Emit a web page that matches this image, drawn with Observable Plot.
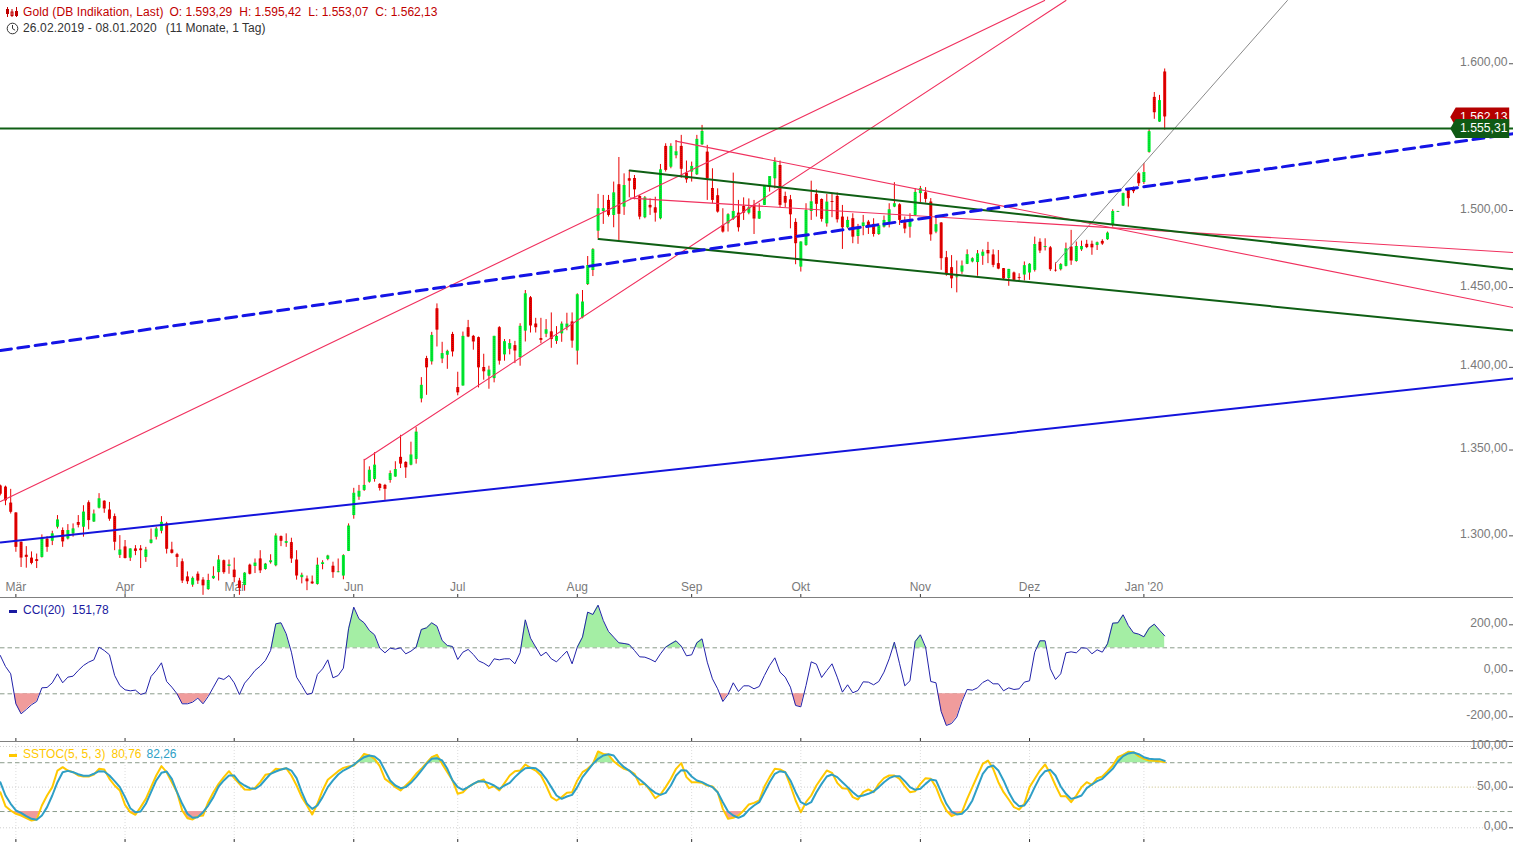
<!DOCTYPE html>
<html lang="de">
<head>
<meta charset="utf-8">
<title>Gold (DB Indikation, Last)</title>
<script src="https://cdn.jsdelivr.net/npm/d3@7"></script>
<script src="https://cdn.jsdelivr.net/npm/@observablehq/plot@0.6"></script>
<style>
  html, body { margin: 0; padding: 0; background: #fff; overflow: hidden; }
  #page { position: relative; width: 1513px; height: 842px; font: 12px "Liberation Sans", Arial, sans-serif; }
  #page svg.plot { position: absolute; left: 0; display: block; }
  .label { position: absolute; white-space: pre; line-height: 14px; z-index: 2; }
  .label span { margin-left: 7px; }
  .label span:first-child { margin-left: 0; }
  .icon { position: absolute; z-index: 2; }
  .dash { position: absolute; left: 9px; width: 8px; height: 3px; z-index: 2; }
</style>
</head>
<body>
<div id="page">
  <svg class="icon" style="left:6px;top:6px" width="12" height="12" viewBox="0 0 12 12" fill="none" stroke="#c00000">
    <path d="M1.5 1v10M6 3v8M10.5 1v10"/><rect x="0.5" y="3.5" width="2" height="4"/><rect x="5" y="6" width="2" height="3.5"/><rect x="9.5" y="5.5" width="2" height="4"/>
  </svg>
  <div class="label" style="left:23px;top:5px;color:#c00000"><span style="letter-spacing:.12px">Gold (DB Indikation, Last)</span><span style="margin-left:6px">O: 1.593,29</span><span>H: 1.595,42</span><span>L: 1.553,07</span><span>C: 1.562,13</span></div>
  <svg class="icon" style="left:6px;top:22px" width="13" height="13" viewBox="0 0 13 13" fill="none" stroke="#333">
    <circle cx="6.5" cy="6.5" r="5.3"/><path d="M6.5 3v3.6l2.6 1.6"/>
  </svg>
  <div class="label" style="left:23px;top:21px;color:#333"><span style="letter-spacing:.13px">26.02.2019 - 08.01.2020</span><span style="margin-left:9px">(11 Monate, 1 Tag)</span></div>
  <div class="dash" style="top:610px;background:#1a1aa0"></div>
  <div class="label" style="left:23px;top:603px;color:#1a1aa0"><span>CCI(20)</span><span>151,78</span></div>
  <div class="dash" style="top:754px;background:#ffc800"></div>
  <div class="label" style="left:23px;top:747px;color:#ffc800"><span>SSTOC(5, 5, 3)</span><span style="margin-left:6px">80,76</span><span style="margin-left:5px;color:#2f9fc6">82,26</span></div>
</div>
<script>
// ---- price candles, one entry per trading day ----
const opens = [
1328,1327.4,1318.1,1312.4,1295.6,1288.2,1286.6,1285.7,1287,1297.3,
1296.2,1304.2,1302.3,1297.5,1300.4,1306.9,1304.2,1318.3,1307.2,1315.2,
1319.2,1314.1,1310.3,1288.2,1292.9,1286.6,1291.8,1291.8,1287,1295,
1298.5,1301.9,1306.1,1291.2,1288.5,1284.5,1276,1271.4,1277.5,1274.2,
1268.9,1275,1278.4,1285.1,1281.9,1279.8,1273.7,1271.2,1282.6,1281.9,
1286.1,1280.2,1284,1282.3,1298.8,1295,1295.4,1285.5,1275.6,1274.8,
1273.1,1271.8,1283,1285.9,1282,1278.4,1276.5,1290.4,1310.9,1321.6,
1325.5,1330.3,1331.9,1329,1328.4,1331.3,1333.3,1344.9,1341.9,1340.3,
1343.7,1379.9,1404.6,1402.6,1435.7,1404.4,1406.7,1419.6,1386.8,1387.8,
1423.8,1418.4,1417.6,1399.1,1393.8,1392.3,1423.8,1406.9,1410.4,1412.6,
1405.2,1421.7,1442.7,1426.1,1417,1419.8,1421.2,1415.3,1420,1423.8,
1427.4,1409.3,1430,1451.1,1460.1,1485.6,1498.5,1505.8,1495.9,1516.2,
1501.4,1520.2,1520.4,1508.4,1494.4,1502.5,1500.9,1493.7,1542,1528,
1535.7,1542,1524,1524.7,1522.9,1543.1,1538.1,1513.7,1508.9,1489.1,
1490.4,1493.3,1497.4,1501.8,1497.4,1502.5,1493.5,1502.5,1515,1520.2,
1529.1,1508.4,1506.2,1491.3,1462.3,1476.3,1498.5,1509.8,1506.4,1490.4,
1505.1,1508.4,1494.8,1487.8,1493.7,1482.1,1488.6,1491.5,1490,1483.4,
1488.2,1491.4,1501.4,1502.9,1491.1,1488.2,1495.9,1510.3,1510.9,1504.7,
1485,1490.9,1468.3,1461.9,1455.5,1459.1,1464.1,1465.6,1465.2,1469.3,
1473,1470.1,1464.5,1461.3,1454.9,1458.5,1455.5,1457.2,1458.5,1460.2,
1478.3,1474.9,1474.7,1460.2,1460.6,1462.8,1475.2,1465.9,1473.4,1477,
1477,1476.3,1478.9,1480,1489.3,1498,1502.1,1512.5,1513.6,1523.5,
1517.7,1538,1575.6,1558.6,1593.29];
const highs = [
1328.6,1328,1326.1,1312.4,1295.6,1293.1,1290.1,1288.9,1299.8,1298.8,
1301.9,1310.9,1303.8,1305.7,1306.1,1310.9,1316.6,1319.4,1314.1,1323.6,
1319.4,1318.5,1311.8,1299.4,1296.6,1291.8,1293.7,1293.7,1292.7,1303.2,
1304.2,1310.3,1307,1295.6,1289.3,1286.1,1278.8,1276,1278.8,1275.6,
1277.5,1281.7,1288,1285.5,1285.5,1286.6,1275.2,1278.4,1283.2,1286.1,
1290.8,1283.6,1288.5,1300.4,1299.2,1300.4,1297.9,1290.8,1278.1,1276.5,
1276.5,1286.6,1285.1,1288.2,1284.3,1286.1,1288.5,1306.1,1326.7,1328.4,
1343.7,1339.3,1347.7,1329.4,1329,1336.9,1342.3,1358,1342.3,1353.9,
1362.6,1392.9,1406,1420.9,1438.8,1414.7,1409.8,1420.9,1396.2,1421.1,
1428.4,1419,1418,1407.3,1399.9,1418.4,1424.5,1416.4,1416.4,1415.3,
1426.3,1447.3,1443.5,1429.7,1429.7,1428.9,1433.1,1424.5,1427.4,1432.9,
1433.1,1445.2,1447.3,1469.1,1474.2,1509.8,1509.1,1509.1,1518,1534.5,
1523.5,1525.8,1522.4,1509.1,1508.4,1506.8,1507.9,1529.8,1543.8,1543.8,
1546,1549.5,1532.1,1531.4,1549.5,1556.3,1542.7,1526.9,1513.5,1500.3,
1497,1524,1505.8,1507.5,1506.8,1505.8,1503.6,1515.7,1521.7,1534.3,
1532.1,1511.3,1509.1,1493.7,1478.5,1503.6,1518.6,1512.8,1506.8,1509.8,
1509.8,1510.7,1502.5,1494.8,1497,1490,1495.9,1492.6,1493.7,1490.4,
1495.5,1503.6,1517.6,1503.6,1494.8,1497,1513.6,1515.1,1514.3,1507,
1494.8,1491.1,1472.4,1469.7,1466.2,1466.2,1473.4,1468.3,1473,1473.4,
1478.3,1473.4,1473,1461.3,1460.8,1459.1,1458,1465.6,1464.5,1481.7,
1480.6,1480.6,1475.6,1465,1464.5,1477.8,1486.1,1478.5,1479.1,1479.6,
1479.1,1478.5,1480,1485,1499.6,1498.5,1510.7,1513.6,1514.7,1524.5,
1530.5,1553.4,1579,1577,1595.42];
const lows = [
1322.3,1316.6,1311.8,1289.9,1281.3,1280.9,1282.8,1280.7,1286.6,1289.9,
1293.7,1303.2,1292.7,1296.9,1298.5,1303.8,1298.5,1302.7,1307,1314.7,
1312.2,1307.6,1290.8,1286.4,1286.1,1284.7,1288,1280.7,1284.2,1294.6,
1296.9,1300.4,1288.9,1288.9,1281.3,1272.3,1271.8,1270.2,1271.8,1265.7,
1268.5,1274.6,1273.7,1277.5,1277.5,1272.7,1265.7,1268,1277.1,1277.9,
1277.9,1279.8,1283.2,1281.7,1293.1,1292.7,1283.6,1274.2,1272.1,1268.3,
1271.8,1271.4,1280,1285.1,1275.2,1278.4,1274.4,1290.3,1308.8,1319.7,
1324.9,1329.7,1330.3,1325.1,1319.7,1329.7,1333.3,1338.3,1332.5,1339.9,
1340.9,1377.5,1382.1,1400.6,1411.8,1401.5,1398,1405.6,1381.8,1387.8,
1417.6,1409.8,1386.6,1391.3,1385.8,1389.7,1400.6,1403,1406.9,1401.5,
1399.9,1414.9,1420.5,1420.5,1413.8,1417.6,1411,1413.4,1414.7,1421.9,
1411,1400.6,1429.4,1450.5,1456.2,1480.6,1490,1494.8,1487.8,1479.5,
1495.9,1507.5,1506.2,1493,1493.7,1495.9,1491.5,1493,1524.7,1526.9,
1533.6,1520.6,1517.2,1518,1522.4,1542.7,1505.8,1503.6,1497.4,1484.3,
1485,1492.6,1485,1492.6,1496.3,1483.4,1493.3,1502.5,1511.3,1513.5,
1500.9,1500.9,1487.1,1463.8,1459.1,1475.7,1492.6,1494.8,1491.5,1488.2,
1494.4,1490.9,1473.7,1487.1,1477.4,1477,1482.6,1483.4,1481.7,1482.8,
1487.6,1487.7,1501,1489.3,1483.9,1481,1495.2,1504.3,1504,1479,
1483.9,1460.2,1456.4,1448.5,1445.8,1457.6,1463.9,1465,1456.4,1463.4,
1464.5,1461.9,1460.6,1454.2,1450,1453.4,1453.4,1453.4,1453.8,1459.1,
1471,1472.7,1459.5,1459.1,1459.8,1462.4,1463.4,1465.4,1472.4,1474.2,
1469.9,1473,1476.3,1479.6,1488.2,1498,1501.9,1501.4,1510.3,1515,
1516.4,1537.4,1560.5,1558.4,1553.07];
const closes = [
1323.3,1319.4,1312.8,1292.7,1286.6,1287,1283.6,1284.7,1297.7,1292.7,
1300.4,1308.4,1295.8,1302.3,1303.2,1305.3,1312.9,1308,1311.8,1320.6,
1314.7,1308.8,1295.6,1291.2,1286.4,1291.8,1290.4,1290.8,1291.2,1296.9,
1303.2,1307,1291.6,1289.3,1287,1273.7,1273.3,1275.2,1273.7,1271,
1274,1276.3,1285.5,1278.4,1282.8,1275.6,1269.5,1278.1,1277.5,1283.8,
1279.4,1283.2,1285.1,1299.2,1296.2,1296,1286.1,1276.5,1276.9,1273.3,
1272.1,1282.6,1284,1287.8,1278.4,1278.8,1288,1304.9,1323.8,1325,
1328.4,1337.3,1340.3,1326.6,1326.1,1335.3,1337.7,1340.9,1338.7,1346.3,
1359.9,1388.2,1398.9,1419,1422.3,1407.7,1409.1,1408.7,1383.6,1418.4,
1418,1414.9,1398.9,1396.5,1397.5,1418.4,1403,1415.1,1413.9,1409.3,
1424.7,1445.2,1424.9,1423.8,1415.9,1422.5,1416.4,1418.4,1426.1,1426.1,
1415.5,1444.6,1440,1463.3,1473.5,1500.3,1500.3,1495.9,1510.8,1496.6,
1515.7,1518.6,1512.8,1494.8,1507.5,1500.9,1497.4,1526.2,1525.8,1542,
1538.4,1526.6,1519.5,1528.5,1546.8,1552.2,1520.2,1505.8,1498.1,1485,
1496.3,1498.5,1487.8,1497.4,1500.9,1493.5,1498.5,1515.7,1521.7,1531.4,
1502.5,1504,1496.3,1477.4,1478.5,1499.2,1504.9,1503.2,1493.3,1504.7,
1504.5,1493,1487.8,1492.6,1481.7,1488.2,1491,1488.2,1483.4,1489.1,
1492.6,1499.6,1503.6,1492.6,1487,1493,1511.1,1513.6,1506.5,1483.2,
1489.8,1467.7,1458.1,1454.7,1456,1463,1470.3,1467.7,1470.8,1471.9,
1470.8,1463.4,1461,1454.7,1460.8,1453.8,1455,1463.2,1464.1,1476.9,
1472.7,1475.6,1460.6,1459.8,1463.9,1474.1,1466.2,1475.6,1475.6,1474.9,
1474.7,1478,1477.2,1484.3,1498.5,1498.5,1510.3,1507,1511.6,1516.9,
1524.4,1552,1565,1573.4,1562.13];

// ---- CCI(20) ----
const cci = [
66.6,18.8,-13.1,-143.5,-187,-168.2,-147.9,-133.4,-74,-72.5,
-52.2,-13.1,-52.2,-27.6,-23.3,1.4,23.1,37.6,47.7,102.8,
88.3,69.5,-20.4,-63.8,-82.7,-87,-84.1,-103,-95.7,-24.7,
1.4,34.7,-46.4,-71.1,-100,-143.5,-143.5,-136.3,-118.9,-143.5,
-111.6,-71.1,-30.5,-37.7,-20.4,-52.2,-103,-53.7,-27.6,1.4,
20.2,44.8,88.3,204.2,208.6,160.8,81,-27.6,-63.8,-103,
-97.2,-16,8.6,47.7,-30.5,-20.4,11.5,182.5,276.7,226,
208.6,175.3,156.4,98.4,78.2,98.4,94.1,99.9,73.8,85.4,
102.8,179.6,186.8,208.6,194.1,131.8,110,105.7,49.2,81,
92.7,71,43.4,33.3,18.8,52.1,47.7,
52.1,52.1,30.4,78.2,221.6,142,102.8,65.1,81,52.1,
39,62.2,85.4,30.4,102.8,146.3,255,244.8,285.4,218.7,
170.9,146.3,121.6,118.7,114.4,88.3,60.8,59.3,50.6,39,
73.8,102.8,117.3,130.3,107.2,65.1,69.5,121.6,139,37.6,
-34.9,-78.3,-133.4,-103,-52.2,-89.9,-65.3,-65.3,-78.3,-68.2,
-20.4,23.1,56.4,-5.9,-27.6,-71.1,-150.8,-156.6,-63.8,39,
28.9,-29,1.4,30.4,-27.6,-92.8,-60.9,-95.7,-85.6,-47.9,
-49.3,-60.9,-46.4,-5.9,52.1,124.5,30.4,-65.3,-43.5,127.4,
156.4,102.8,-46.4,-52.2,-176.9,-237.7,-229,-201.5,-133.4,-81.2,
-84.1,-74,-50.8,-39.2,-56.6,-56.6,
-87,-74,-81.2,-78.3,-49.3,-43.5,81,130.3,130.3,8.6,
-37.7,-13.1,78.2,82.5,78.2,99.9,98.4,73.8,91.2,81,
117.3,207.1,208.6,243.4,197,165.1,159.3,147.7,185.4,202.8,
176.7,151.78];

// ---- SSTOC(5,5,3) ----
const stochK = [
43.8,26.6,21.3,17.2,15.1,11.8,9,10.2,27.4,39.7,
50,70.4,74.5,70.4,68.4,64.3,63.1,63.1,65.5,72.5,
71.7,60.2,52,45.9,28.2,19.2,16,25.4,35.6,50,
64.3,75.8,68.4,56.1,43.8,21.3,11.8,10.2,14.3,15.1,
31.5,43.8,54,62.3,69.6,61,54,47.1,46.7,49.1,
56.1,65.1,66.4,72.5,71.7,73.3,64.3,52,37.7,27.4,
16.4,29.5,45.9,59,64.3,69.6,73.7,75.4,76.6,82.7,
90.9,88.9,84.8,75.8,60.2,55.3,50,45.9,52,58.2,
66.4,72.5,79.9,86.8,89.7,78.6,68.4,58.2,41.8,43.8,
50,54,56.9,59.4,48.7,51.2,45.9,
54.9,64.3,69.6,70.4,77.8,73.7,70.4,64.3,52,37.7,
33.6,37.7,43,43.8,58.2,68.4,72.5,78.6,93.8,90.9,
89.7,81.9,76.6,72.5,70.4,66.4,53.2,54,45.9,36.4,
40.9,50,60.2,72.5,79.5,62.3,56.1,56.1,55.3,52,
50.8,43.8,23.3,11,12.3,15.1,21.3,28.7,30.7,33.6,
50.8,62.3,72.5,71.7,68.4,52,33.6,19.2,31.5,39.7,
52,61.4,70.4,67.6,55.3,48.7,47.9,37.7,34.8,43.8,
47.1,43.8,54,61,64.3,64.3,60.2,51.2,43.8,45,
54,61,60.2,50,33.6,21.3,14.3,17.2,19.2,35.6,
50,64.3,78.6,82.7,72.5,56.1,
43.8,34.8,25.4,22.5,29.5,50,60.2,70.4,77.8,66.4,
52,38.9,38.9,31.5,39.7,50,56.1,52.8,61,63.1,
69.6,76.6,86.8,89.7,93.4,93,88.1,84.8,82.7,82.3,
81.9,80.76];
const stochD = [
56.1,39.7,29.5,21.3,18.4,14.3,11,9.8,15.1,25.4,
39.7,56.1,68.4,70,68.4,65.9,63.9,63.9,66.4,69.6,
69.2,64.3,57.3,50,37.7,24.1,19.2,20,29.5,43.8,
58.2,67.6,69.2,60.2,43.8,29.5,17.2,12.3,13.1,19.2,
27.4,37.7,50.8,58.2,64.3,64.3,56.1,52,48.7,47.9,
52,59.4,66.4,69.2,71.7,73.3,70.4,61,43.8,29.5,
23.3,27.4,37.7,50,58.2,65.5,70.4,73.7,77.4,82.7,
86.8,88.9,87.7,82.7,70.4,58.2,52,48.7,50,55.3,
62.3,70.4,78.6,84.8,85.6,82.7,72.5,58.2,50,46.7,
50,54,57.3,56.9,54.9,52,47.9,
52,55.3,62.3,68.4,73.3,73.7,73.3,68.4,60.2,50,
39.7,35.6,38.5,40.5,50,62.3,70.4,78.6,84.8,88.9,
90.5,88.9,80.7,74.5,70.4,64.3,59.4,54,47.9,43,
40.5,43,52,64.3,70.9,70.4,63.1,58.2,56.1,52.8,
50,43.8,31.5,20,15.1,12.3,15.1,22.1,27.4,31.5,
43.8,56.1,66.4,69.6,68.4,58.2,43.8,31.5,28.2,31.5,
43.8,54,63.1,65.5,62.3,56.1,50,43.8,38.5,39.7,
41.8,44.6,50,56.1,61,63.5,63.5,57.3,50,46.7,
47.9,54,59.4,58.2,43.8,29.5,20,16.4,17.2,23.3,
33.6,50,66.4,74.5,76.6,70.4,
58.2,43.8,32.3,26.6,27.4,36.4,50,62.3,69.6,71.3,
64.3,50.8,41.8,35.6,37.3,39.7,48.7,53.2,57.3,60.2,
66.4,72.5,81.5,88.1,91.4,92.6,90.5,86.8,84.8,84.4,
84.4,82.26];

// ---- axes ----
const monthIndex = [3,24,45,68,88,111,133,154,177,198,220];
const monthNames = ["Mär","Apr","Mai","Jun","Jul","Aug","Sep","Okt","Nov","Dez","Jan '20"];
const priceTicks = [1300,1350,1400,1450,1500,1600];
const cciTicks = [-200,0,200];
const cciBands = [-100,100];
const stochTicks = [0,50,100];
const stochBands = [20,80];

// ---- chart tools: two end points [day index, price] each ----
const blueSupport = [[0.04,1295.5],[291.1,1392.4]];
const blueDashed = [[0.04,1409.6],[291.1,1550.6]];
const redRising1 = [[0.04,1319],[200.9,1644.2]];
const redRising2 = [[70.1,1343.5],[205,1644.2]];
const redFalling1 = [[129.95,1545.6],[291.1,1436.5]];
const redFalling2 = [[121.2,1507.3],[291.1,1471.7]];
const channelUpper = [[121.1,1525.8],[291.1,1460.8]];
const channelLower = [[115.1,1480.4],[291.1,1422.1]];
const grayRising = [[203.05,1464.8],[247.6,1644.2]];
const horizontalLevel = 1554.2;
const lastPrice = 1562.13;

// ---- rendering ----
const W = 1513;
const xDomain = [0.04, 291.1];
const days = opens.map((o, i) => ({i, o, h: highs[i], l: lows[i], c: closes[i]}));
const up = days.filter(d => d.c >= d.o), down = days.filter(d => d.c < d.o);
const de = d3.formatLocale({decimal: ",", thousands: ".", grouping: [3], currency: ["", ""], minus: "-"}).format(",.2f");
const TICK = "#555", LABEL = "#7a7a7a", BAND = "#8b9c8b";
const base = {width: W, marginTop: 0, marginRight: 0, marginBottom: 0, marginLeft: 0,
  style: {fontFamily: '"Liberation Sans", Arial, sans-serif', fontSize: "12px", background: "transparent"}};
const xScale = {type: "linear", domain: xDomain, range: [0, W], axis: null};

const tag = {draw(ctx) {
  ctx.moveTo(-29.5, 0); ctx.lineTo(-24, -9.5); ctx.lineTo(29.5, -9.5); ctx.lineTo(29.5, 9.5); ctx.lineTo(-24, 9.5); ctx.closePath();
}};
const tagX = 284.6;
function yLabels(ticks, dy) {
  return Plot.axisY({anchor: "right", ticks, tickFormat: de, tickSize: 0, tickPadding: -6, textAnchor: "end",
    fill: LABEL, fontSize: 12.2, label: null, dy});
}
function yTickMarks(ticks, dy) {
  return Plot.ruleY(ticks, {insetLeft: W - 4, stroke: TICK, dy});
}
function monthMarks(h) {
  return Plot.ruleX(monthIndex, {insetTop: h - 3, stroke: "#333"});
}
function line(points, stroke, strokeWidth, extra = {}) {
  return Plot.line(points, {x: d => d[0], y: d => d[1], stroke, strokeWidth, ...extra});
}
function candleBodies(data, fill, core) {
  return [
    Plot.ruleX(data, {x: "i", y1: "o", y2: "c", stroke: fill, strokeWidth: 3}),
    Plot.ruleX(data, {x: "i", y1: "o", y2: "c", stroke: core, strokeWidth: 1, strokeDasharray: "1,1"})
  ];
}
// region between a series and a threshold, with the exact crossing points added
function band(values, level, sign) {
  const out = [];
  values.forEach((v, i) => {
    if (i > 0) {
      const p = values[i - 1];
      if ((p - level) * (v - level) < 0) out.push({i: i - 1 + (level - p) / (v - p), v: level});
    }
    out.push({i, v: sign > 0 ? Math.max(v, level) : Math.min(v, level)});
  });
  return out;
}

const main = Plot.plot({...base, height: 597,
  x: xScale,
  y: {type: "log", domain: [1264.5, 1644.2], range: [597, 0], axis: null},
  marks: [
    Plot.axisX({anchor: "bottom", ticks: monthIndex, tickFormat: i => monthNames[monthIndex.indexOf(i)], tickSize: 0,
      tickPadding: -15, fill: LABEL, fontSize: 12, label: null}),
    monthMarks(597),
    yLabels(priceTicks, -0.5),
    yTickMarks(priceTicks, 1.3),
    Plot.ruleX(days, {x: "i", y1: "l", y2: "h", stroke: "#ea0000", strokeWidth: 1}),
    ...candleBodies(down, "#ec0000", "#a80000"),
    ...candleBodies(up, "#00ee30", "#00b828"),
    line(grayRising, "#8a8a8a", 1),
    line(redRising1, "#f0305e", 1.1),
    line(redRising2, "#f0305e", 1.1),
    line(redFalling1, "#f0305e", 1.1),
    line(redFalling2, "#f0305e", 1.1),
    line(channelUpper, "#0f5f14", 2),
    line(channelLower, "#0f5f14", 2),
    Plot.ruleY([horizontalLevel], {stroke: "#0f5f14", strokeWidth: 2}),
    line(blueSupport, "#1414dc", 2),
    line(blueDashed, "#1414e6", 3, {strokeDasharray: "11,6.5"}),
    Plot.dot([lastPrice], {x: () => tagX, y: d => d, symbol: tag, r: 10, fill: "#b40000", stroke: "none"}),
    Plot.text([lastPrice], {x: () => tagX, y: d => d, text: de, fill: "#fff", fontSize: 12.2, dx: 4}),
    Plot.dot([horizontalLevel], {x: () => tagX, y: d => d, symbol: tag, r: 10, fill: "#0f5a14", stroke: "none"}),
    Plot.text(["1.555,31"], {x: () => tagX, y: () => horizontalLevel, text: d => d, fill: "#fff", fontSize: 12.2, dx: 4})
  ]});
main.style.top = "0px";

const cciPanel = Plot.plot({...base, height: 144,
  x: xScale,
  y: {type: "linear", domain: [-307.4, 318.7], range: [144, 0], axis: null},
  marks: [
    Plot.ruleY(cciBands, {stroke: BAND, strokeDasharray: "4.5,3"}),
    Plot.areaY(band(cci, 100, 1), {x: "i", y1: () => 100, y2: "v", fill: "#a4eea4"}),
    Plot.areaY(band(cci, -100, -1), {x: "i", y1: () => -100, y2: "v", fill: "#f09c9c"}),
    Plot.line(cci, {x: (d, i) => i, y: d => d, stroke: "#2222aa", strokeWidth: 1}),
    yLabels(cciTicks, -1.5),
    yTickMarks(cciTicks, 0),
    monthMarks(144),
    Plot.ruleY([318.7], {stroke: "#808080", strokeWidth: 1})
  ]});
cciPanel.style.top = "597px";

const stochPanel = Plot.plot({...base, height: 101,
  x: xScale,
  y: {type: "linear", domain: [-18.07, 106.1], range: [101, 0], axis: null},
  marks: [
    Plot.ruleX(monthIndex, {stroke: "#dcdcdc", strokeDasharray: "1,2"}),
    Plot.ruleY(stochTicks, {stroke: "#cfcfcf", strokeDasharray: "1,2"}),
    Plot.ruleY([50], {x1: 221, x2: 285, stroke: "#e6dfa0", strokeDasharray: "1,2"}),
    Plot.ruleY(stochBands, {stroke: BAND, strokeDasharray: "4.5,3"}),
    Plot.areaY(band(stochK, 80, 1), {x: "i", y1: () => 80, y2: "v", fill: "#a4eea4"}),
    Plot.areaY(band(stochK, 20, -1), {x: "i", y1: () => 20, y2: "v", fill: "#f09c9c"}),
    Plot.line(stochK, {x: (d, i) => i, y: d => d, stroke: "#ffc800", strokeWidth: 2}),
    Plot.line(stochD, {x: (d, i) => i, y: d => d, stroke: "#2f9fc6", strokeWidth: 2}),
    yLabels(stochTicks, -1.5),
    yTickMarks(stochTicks, 0),
    monthMarks(101),
    Plot.ruleY([106.1], {stroke: "#808080", strokeWidth: 1})
  ]});
stochPanel.style.top = "741px";
stochPanel.style.overflow = "visible";

const page = document.getElementById("page");
page.append(main, cciPanel, stochPanel);
</script>
</body>
</html>
